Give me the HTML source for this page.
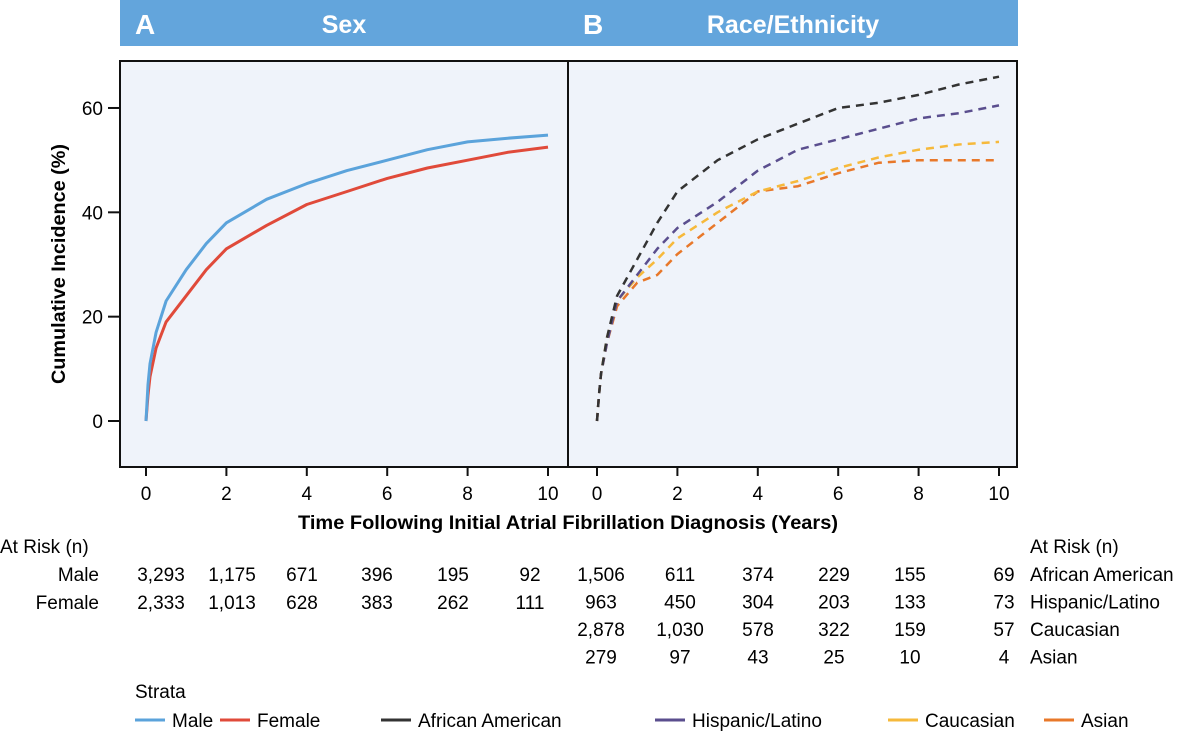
<!DOCTYPE html>
<html><head><meta charset="utf-8"><style>
body{margin:0;background:#fff;}
svg{display:block;font-family:"Liberation Sans",sans-serif;}
</style></head><body>
<svg width="1200" height="734" viewBox="0 0 1200 734">
<rect x="120" y="0" width="898" height="46" fill="#63a5dc"/>
<text x="135" y="34" fill="#fff" font-size="28" font-weight="bold">A</text>
<text x="344" y="33" fill="#fff" font-size="25" font-weight="bold" text-anchor="middle">Sex</text>
<text x="583" y="34" fill="#fff" font-size="28" font-weight="bold">B</text>
<text x="793" y="33" fill="#fff" font-size="25" font-weight="bold" text-anchor="middle">Race/Ethnicity</text>
<rect x="120" y="61" width="448" height="406" fill="#eff3fa" stroke="#111" stroke-width="2"/>
<rect x="568" y="61" width="449" height="406" fill="#eff3fa" stroke="#111" stroke-width="2"/>
<g id="axes"></g>
<g id="series"></g>
<text x="568" y="529" font-size="19" font-weight="bold" text-anchor="middle" textLength="540" lengthAdjust="spacingAndGlyphs">Time Following Initial Atrial Fibrillation Diagnosis (Years)</text>
<text transform="translate(65,264) rotate(-90)" font-size="19" font-weight="bold" text-anchor="middle" textLength="240" lengthAdjust="spacingAndGlyphs">Cumulative Incidence (%)</text>
<g id="risk" font-size="19"></g>
<text x="135" y="698" font-size="19">Strata</text>
<g id="legend" font-size="19"></g>
</svg>
<script>
const NS="http://www.w3.org/2000/svg";
const xTicks=[0,2,4,6,8,10];
const yTicks=[0,20,40,60];
const times=[0,0.05,0.1,0.25,0.5,1,1.5,2,3,4,5,6,7,8,9,10];
const male=[0,7,11,17,23,29,34,38,42.5,45.5,48,50,52,53.5,54.2,54.8];
const female=[0,5,8.5,14,19,24,29,33,37.5,41.5,44,46.5,48.5,50,51.5,52.5];
const africanAmerican=[0,5,9,16,24,31,38,44,50,54,57,60,61,62.5,64.5,66];
const hispanic=[0,5,9,15,23,28,33,37,42,48,52,54,56,58,59,60.5];
const caucasian=[0,5,9,16,23,27.5,31,35,40,44,46,48.5,50.5,52,53,53.5];
const asian=[0,5,9,15,22,26.5,28,32,38,44,45,47.5,49.5,50,50,50];
const riskMale=["3,293","1,175","671","396","195","92"];
const riskFemale=["2,333","1,013","628","383","262","111"];
const riskAA=["1,506","611","374","229","155","69"];
const riskHL=["963","450","304","203","133","73"];
const riskCA=["2,878","1,030","578","322","159","57"];
const riskAS=["279","97","43","25","10","4"];
function xA(t){return 146+t*40.2;}
function xB(t){return 597+t*40.2;}
function y(v){return 421-v*5.217;}
function mk(tag,attrs,parent){const e=document.createElementNS(NS,tag);for(const k in attrs)e.setAttribute(k,attrs[k]);parent.appendChild(e);return e;}
const axes=document.getElementById('axes');
yTicks.forEach(v=>{
 const l=mk('line',{x1:108,x2:120,y1:y(v),y2:y(v),stroke:'#111','stroke-width':2},axes);
 
 
 const t=mk('text',{x:103,y:y(v)+7,'font-size':19,'text-anchor':'end'},axes);t.textContent=v;
 
 
});
[xA,xB].forEach(fx=>{xTicks.forEach(v=>{
 const l=mk('line',{x1:fx(v),x2:fx(v),y1:467,y2:476,stroke:'#111','stroke-width':2},axes);
 
 
 const t=mk('text',{x:fx(v),y:500,'font-size':19,'text-anchor':'middle'},axes);t.textContent=v;
 
 
});});
const ser=document.getElementById('series');
function draw(fx,vals,color,dash,name){
 const d=times.map((t,i)=>(i?'L':'M')+fx(t).toFixed(1)+','+y(vals[i]).toFixed(1)).join(' ');
 const p=mk('path',{d:d,fill:'none',stroke:color,'stroke-width':dash?2.5:3,'stroke-dasharray':dash?'8,6':'none','stroke-linejoin':'round'},ser);
 
 
}
draw(xA,female,'#e04a3a',false,'female-line');
draw(xA,male,'#5ba3db',false,'male-line');
draw(xB,asian,'#e8782a',true,'asian-line');
draw(xB,caucasian,'#f6b93b',true,'caucasian-line');
draw(xB,hispanic,'#5a4e8e',true,'hispanic-latino-line');
draw(xB,africanAmerican,'#333',true,'african-american-line');
const risk=document.getElementById('risk');
function txt(x,yy,s,anchor,name){const t=mk('text',{x:x,y:yy,'text-anchor':anchor},risk);t.textContent=s;
 
 }
txt(0,553,'At Risk (n)','start','at-risk-title-left');
txt(1030,553,'At Risk (n)','start','at-risk-title-right');
const colA=[161,232,302,377,453,530],colB=[601,680,758,834,910,1004];
txt(99,581,'Male','end','risk-label-male');
txt(99,609,'Female','end','risk-label-female');
riskMale.forEach((s,i)=>txt(colA[i],581,s,'middle','risk-male-value'));
riskFemale.forEach((s,i)=>txt(colA[i],609,s,'middle','risk-female-value'));
[[riskAA,'African American'],[riskHL,'Hispanic/Latino'],[riskCA,'Caucasian'],[riskAS,'Asian']].forEach((r,j)=>{
 const yy=581+j*27.5;
 r[0].forEach((s,i)=>txt(colB[i],yy,s,'middle','risk-value'));
 txt(1030,yy,r[1],'start','risk-label');
});
const leg=document.getElementById('legend');
[[135,'#5ba3db','Male'],[220,'#e04a3a','Female'],[381,'#333','African American'],[655,'#5a4e8e','Hispanic/Latino'],[888,'#f6b93b','Caucasian'],[1044,'#e8782a','Asian']].forEach(e=>{
 const l=mk('line',{x1:e[0],x2:e[0]+30,y1:720,y2:720,stroke:e[1],'stroke-width':3},leg);
 
 
 const t=mk('text',{x:e[0]+37,y:727},leg);t.textContent=e[2];
 
 
});
</script>
</body></html>
